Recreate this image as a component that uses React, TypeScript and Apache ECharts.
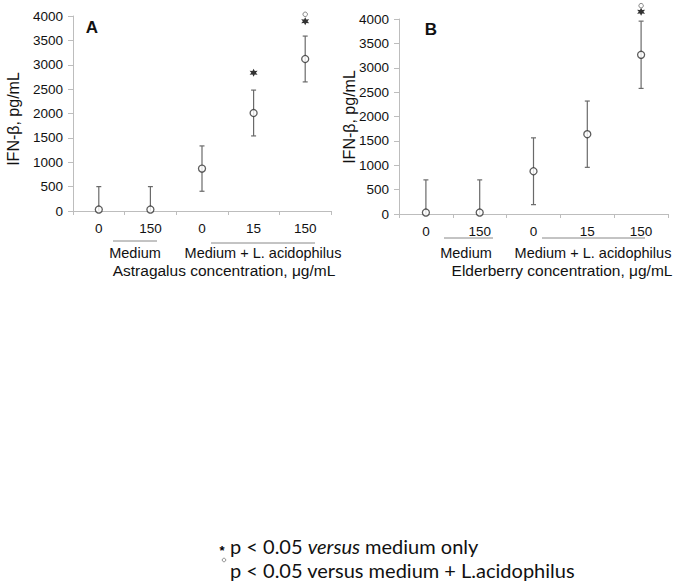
import React, { useEffect, useRef } from "react";
import * as echarts from "echarts";

const categories = ["0", "150", "0", "15", "150"];
const meanA = [30, 30, 870, 2010, 3118];
const errA = [470, 470, 465, 470, 470];
const meanB = [30, 30, 877, 1637, 3266];
const errB = [670, 670, 685, 680, 690];
// significance marks: [categoryIndex, yValue]
const starA = [[3, 2837], [4, 3891]];
const ringA = [[4, 4035]];
const starB = [[4, 4150]];
const ringB = [[4, 4273]];
const yTicks = { min: 0, max: 4000, interval: 500 };

function starPath(): string {
  const pts: string[] = [];
  for (let k = 0; k < 12; k++) {
    const r = k % 2 === 0 ? 1 : 0.5;
    const a = (Math.PI / 6) * k - Math.PI / 2;
    pts.push(`${(r * Math.cos(a)).toFixed(3)},${(r * Math.sin(a)).toFixed(3)}`);
  }
  return "path://M" + pts.join(" L") + " Z";
}

const FONT = "Liberation Sans";

export default function App() {
  const ref = useRef<HTMLDivElement>(null);
  useEffect(() => {
    document.body.style.margin = "0";
    if (!ref.current) return;
    const chart = echarts.init(ref.current, null, { renderer: "svg" });
    const STAR = starPath();

    const mkX = (gi: number) => ({
      type: "category",
      gridIndex: gi,
      data: categories,
      boundaryGap: true,
      axisLine: { lineStyle: { color: "#bdbdbd", width: 1 } },
      axisTick: { show: true, interval: 0, length: 4, lineStyle: { color: "#bdbdbd" } },
      axisLabel: { color: "#111", fontFamily: FONT, fontSize: 13.5, margin: 10, interval: 0 },
    });
    const mkY = (gi: number) => ({
      type: "value",
      gridIndex: gi,
      min: yTicks.min,
      max: yTicks.max,
      interval: yTicks.interval,
      axisLine: { show: true, lineStyle: { color: "#bdbdbd", width: 1 } },
      axisTick: { show: true, length: 5, lineStyle: { color: "#bdbdbd" } },
      axisLabel: { color: "#111", fontFamily: FONT, fontSize: 13.5, margin: 10, formatter: (v: number) => String(v) },
      splitLine: { show: false },
    });

    const errSeries = (gi: number, mean: number[], err: number[]) => ({
      type: "custom",
      xAxisIndex: gi,
      yAxisIndex: gi,
      clip: true,
      data: mean.map((m, i) => [i, m, err[i]]),
      renderItem: (params: any, api: any) => {
        const i = api.value(0);
        const m = api.value(1);
        const e = api.value(2);
        const top = api.coord([i, m + e]);
        const lowVal = Math.max(m - e, 0);
        const bot = api.coord([i, lowVal]);
        const children: any[] = [
          { type: "line", shape: { x1: top[0], y1: top[1], x2: bot[0], y2: bot[1] }, style: { stroke: "#6a6a6a", lineWidth: 1.2 } },
          { type: "line", shape: { x1: top[0] - 2.5, y1: top[1], x2: top[0] + 2.5, y2: top[1] }, style: { stroke: "#6a6a6a", lineWidth: 1.2 } },
        ];
        if (m - e > 0) {
          children.push({ type: "line", shape: { x1: bot[0] - 2.5, y1: bot[1], x2: bot[0] + 2.5, y2: bot[1] }, style: { stroke: "#6a6a6a", lineWidth: 1.2 } });
        }
        return { type: "group", children };
      },
      z: 2,
    });

    const pointSeries = (gi: number, mean: number[]) => ({
      type: "scatter",
      xAxisIndex: gi,
      yAxisIndex: gi,
      data: mean.map((m, i) => [i, m]),
      symbol: "circle",
      symbolSize: 7,
      itemStyle: { color: "#ffffff", borderColor: "#333", borderWidth: 1.3 },
      z: 3,
    });

    const starSeries = (gi: number, d: number[][]) => ({
      type: "scatter",
      xAxisIndex: gi,
      yAxisIndex: gi,
      clip: false,
      data: d,
      symbol: STAR,
      symbolSize: 8,
      itemStyle: { color: "#000" },
      z: 4,
    });
    const ringSeries = (gi: number, d: number[][]) => ({
      type: "scatter",
      xAxisIndex: gi,
      yAxisIndex: gi,
      clip: false,
      data: d,
      symbol: "circle",
      symbolSize: 4.5,
      itemStyle: { color: "#fff", borderColor: "#666", borderWidth: 1 },
      z: 4,
    });

    const F2 = `14.5px "${FONT}"`;
    const F3 = `15.5px "${FONT}"`;
    const txt = (x: number, y: number, text: string, extra: any = {}) => ({
      type: "text",
      x,
      y,
      style: { text, fill: "#111", font: F2, align: "center", verticalAlign: "middle", ...extra },
    });
    const hline = (x1: number, x2: number, y: number) => ({
      type: "line",
      shape: { x1, y1: y, x2, y2: y },
      style: { stroke: "#888", lineWidth: 1 },
    });

    chart.setOption({
      animation: false,
      grid: [
        { left: 73, top: 16, width: 258, height: 195 },
        { left: 399, top: 19, width: 269, height: 195 },
      ],
      xAxis: [mkX(0), mkX(1)],
      yAxis: [mkY(0), mkY(1)],
      series: [
        errSeries(0, meanA, errA),
        pointSeries(0, meanA),
        starSeries(0, starA),
        ringSeries(0, ringA),
        errSeries(1, meanB, errB),
        pointSeries(1, meanB),
        starSeries(1, starB),
        ringSeries(1, ringB),
      ],
      graphic: [
        txt(92, 27, "A", { font: `bold 17px "${FONT}"` }),
        txt(431, 29, "B", { font: `bold 17px "${FONT}"` }),
        { type: "text", x: 13, y: 119, rotation: Math.PI / 2, style: { text: "IFN-β, pg/mL", fill: "#111", font: `16px "${FONT}"`, align: "center", verticalAlign: "middle" } },
        { type: "text", x: 349, y: 117, rotation: Math.PI / 2, style: { text: "IFN-β, pg/mL", fill: "#111", font: `16px "${FONT}"`, align: "center", verticalAlign: "middle" } },
        hline(113, 157, 241),
        hline(211, 315, 243),
        txt(135, 253, "Medium"),
        txt(263, 253, "Medium + L. acidophilus"),
        txt(224, 270, "Astragalus concentration, μg/mL", { font: F3 }),
        hline(444, 493, 238),
        hline(542, 645, 238),
        txt(466, 253, "Medium"),
        txt(593, 253, "Medium + L. acidophilus"),
        txt(562, 270, "Elderberry concentration, μg/mL", { font: F3 }),
        { type: "text", x: 222, y: 550, style: { text: "*", fill: "#000", font: `bold 13px "${FONT}"`, align: "center", verticalAlign: "middle" } },
        { type: "circle", shape: { cx: 224, cy: 560, r: 1.8 }, style: { fill: "#fff", stroke: "#777", lineWidth: 0.8 } },
        {
          type: "text",
          x: 230,
          y: 546,
          style: {
            text: "p < 0.05 {i|versus} medium only",
            rich: { i: { fontStyle: "italic", fontFamily: "Lato", fontSize: 20, fill: "#111" } },
            fill: "#111",
            font: `20px "Lato"`,
            align: "left",
            verticalAlign: "middle",
          },
        },
        {
          type: "text",
          x: 230,
          y: 570,
          style: { text: "p < 0.05 versus medium + L.acidophilus", fill: "#111", font: `20px "Lato"`, align: "left", verticalAlign: "middle" },
        },
      ],
    });
    return () => chart.dispose();
  }, []);
  return <div ref={ref} style={{ width: 679, height: 584 }} />;
}
